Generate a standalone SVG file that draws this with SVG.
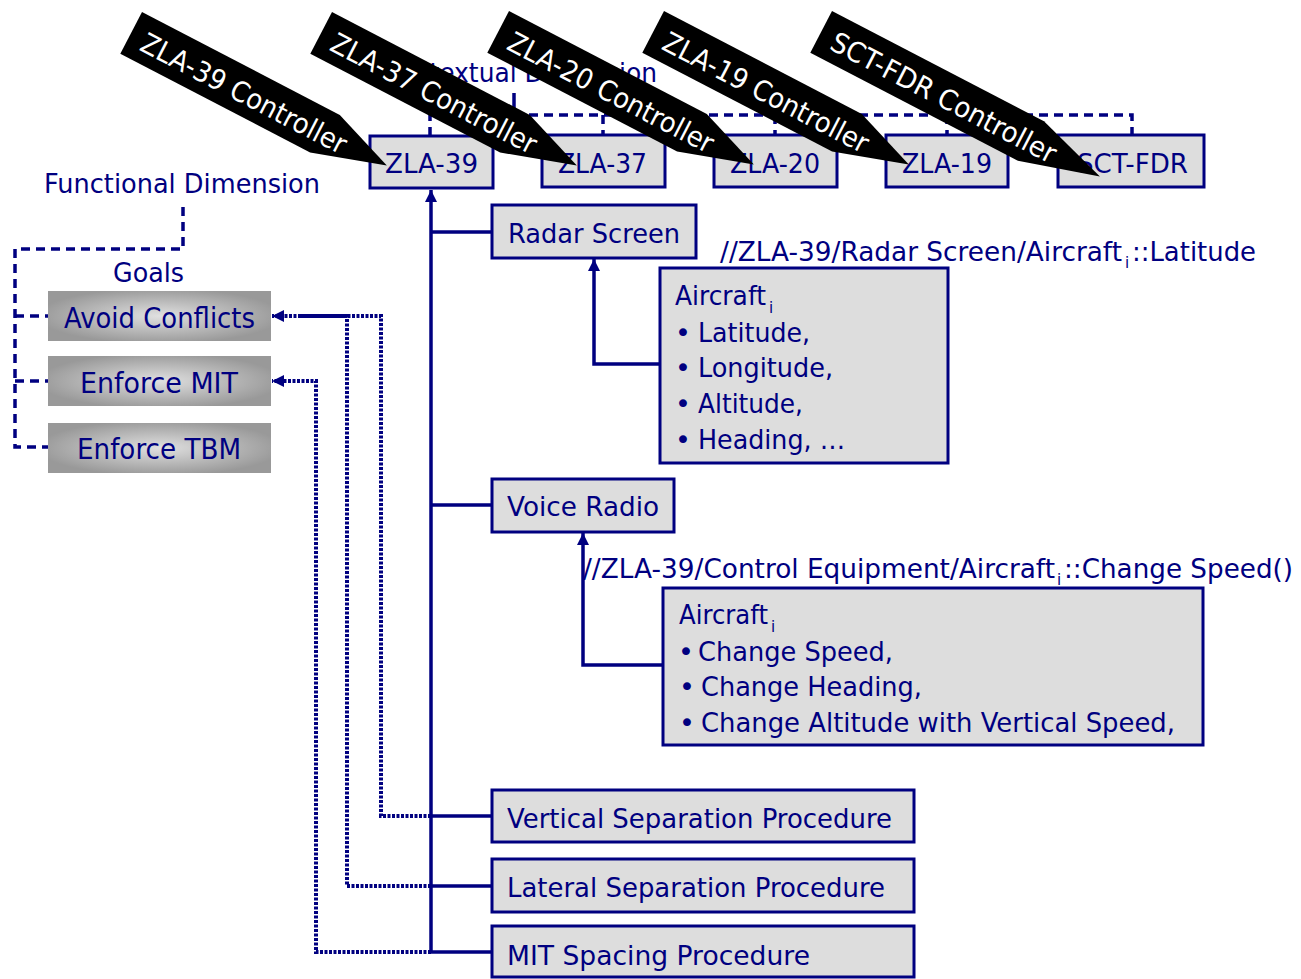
<svg xmlns="http://www.w3.org/2000/svg" width="1301" height="979" viewBox="0 0 1301 979">
  <style>
    text { font-family: "DejaVu Sans", "Liberation Sans", sans-serif; fill: #000080; }
    .lbl { font-size: 27px; }
    .big { font-size: 28px; }
    .sub { font-size: 15px; }
    .box { fill: #dddddd; stroke: #000080; stroke-width: 3; }
    .goal { fill: url(#goalFill); }
    .solid { fill: none; stroke: #000080; stroke-width: 3.5; }
    .dash { fill: none; stroke: #000080; stroke-width: 3.5; stroke-dasharray: 9 6; }
    .dot { fill: none; stroke: #000080; stroke-width: 4; stroke-dasharray: 3 1.5; }
    .callout polygon { fill: #000000; }
    .callout text { fill: #ffffff; font-size: 28px; }
  </style>
  <defs>
    <radialGradient id="goalFill" cx="50%" cy="50%" r="55%">
      <stop offset="0%" stop-color="#e0e0e0"/>
      <stop offset="100%" stop-color="#999999"/>
    </radialGradient>
    <marker id="arrow" viewBox="0 0 10 10" refX="10" refY="5" markerWidth="12" markerHeight="12" markerUnits="userSpaceOnUse" orient="auto">
      <path d="M0,0 L10,5 L0,10 z" fill="#000080"/>
    </marker>
  </defs>

  <rect width="1301" height="979" fill="#ffffff"/>

  <!-- dimension labels -->
  <text class="lbl" x="381" y="82" textLength="276" lengthAdjust="spacingAndGlyphs">Contextual Dimension</text>
  <text class="lbl" x="44" y="193" textLength="276" lengthAdjust="spacingAndGlyphs">Functional Dimension</text>
  <text class="lbl" x="113" y="282" textLength="71" lengthAdjust="spacingAndGlyphs">Goals</text>

  <!-- connectors -->
  <g id="connectors">
    <!-- contextual dimension bracket -->
    <path class="solid" d="M514,93 V113"/>
    <path class="dash" d="M430,136 V115 H1132 V136"/>
    <path class="dash" d="M603,115 V135 M775,115 V135 M947,115 V135"/>
    <!-- functional dimension bracket -->
    <path class="dash" d="M183,207 V249 H15 V447 H48"/>
    <path class="dash" d="M15,316 H48 M15,381 H48"/>
    <!-- goal links -->
    <path class="dot" d="M431,816 H381 V316 H272" marker-end="url(#arrow)"/>
    <path class="dot" d="M431,886 H347 V316 H300"/>
    <path class="dot" d="M431,952 H316 V381 H272" marker-end="url(#arrow)"/>
    <!-- ZLA-39 trunk -->
    <path class="solid" d="M431,952 V190" marker-end="url(#arrow)"/>
    <path class="solid" d="M431,232 H491 M431,505 H491 M431,816 H491 M431,886 H491 M431,952 H491"/>
    <!-- object links -->
    <path class="solid" d="M660,364 H594 V259" marker-end="url(#arrow)"/>
    <path class="solid" d="M663,665 H583 V533" marker-end="url(#arrow)"/>
  </g>

  <!-- controller positions -->
  <g id="zla39">
    <rect class="box" x="370" y="136" width="123" height="52"/>
    <text class="lbl" x="385" y="173" textLength="93" lengthAdjust="spacingAndGlyphs">ZLA-39</text>
  </g>
  <g id="zla37">
    <rect class="box" x="542" y="135" width="123" height="52"/>
    <text class="lbl" x="558" y="173" textLength="89" lengthAdjust="spacingAndGlyphs">ZLA-37</text>
  </g>
  <g id="zla20">
    <rect class="box" x="714" y="135" width="123" height="52"/>
    <text class="lbl" x="730" y="173" textLength="90" lengthAdjust="spacingAndGlyphs">ZLA-20</text>
  </g>
  <g id="zla19">
    <rect class="box" x="886" y="135" width="122" height="52"/>
    <text class="lbl" x="902" y="173" textLength="90" lengthAdjust="spacingAndGlyphs">ZLA-19</text>
  </g>
  <g id="sctfdr">
    <rect class="box" x="1058" y="135" width="146" height="52"/>
    <text class="lbl" x="1077" y="173" textLength="111" lengthAdjust="spacingAndGlyphs">SCT-FDR</text>
  </g>

  <!-- goals -->
  <g id="goal-avoid">
    <rect class="goal" x="48" y="291" width="223" height="50"/>
    <text class="big" x="64" y="328" textLength="191" lengthAdjust="spacingAndGlyphs">Avoid Conflicts</text>
  </g>
  <g id="goal-mit">
    <rect class="goal" x="48" y="356" width="223" height="50"/>
    <text class="big" x="80" y="393" textLength="158" lengthAdjust="spacingAndGlyphs">Enforce MIT</text>
  </g>
  <g id="goal-tbm">
    <rect class="goal" x="48" y="423" width="223" height="50"/>
    <text class="big" x="77" y="459" textLength="164" lengthAdjust="spacingAndGlyphs">Enforce TBM</text>
  </g>

  <!-- equipment and procedures -->
  <g id="radar-screen">
    <rect class="box" x="492" y="205" width="204" height="53"/>
    <text class="lbl" x="508" y="243" textLength="172" lengthAdjust="spacingAndGlyphs">Radar Screen</text>
  </g>
  <g id="radar-aircraft">
    <text class="lbl" x="720" y="261" textLength="402" lengthAdjust="spacingAndGlyphs">//ZLA-39/Radar Screen/Aircraft</text>
    <text class="sub" x="1125" y="268">i</text>
    <text class="lbl" x="1132" y="261" textLength="124" lengthAdjust="spacingAndGlyphs">::Latitude</text>
    <rect class="box" x="660" y="268" width="288" height="195"/>
    <text class="lbl" x="675" y="305" textLength="91" lengthAdjust="spacingAndGlyphs">Aircraft</text>
    <text class="sub" x="769" y="313">i</text>
    <text class="lbl" x="675" y="342">•</text>
    <text class="lbl" x="698" y="342" textLength="112" lengthAdjust="spacingAndGlyphs">Latitude,</text>
    <text class="lbl" x="675" y="377">•</text>
    <text class="lbl" x="698" y="377" textLength="135" lengthAdjust="spacingAndGlyphs">Longitude,</text>
    <text class="lbl" x="675" y="413">•</text>
    <text class="lbl" x="698" y="413" textLength="105" lengthAdjust="spacingAndGlyphs">Altitude,</text>
    <text class="lbl" x="675" y="449">•</text>
    <text class="lbl" x="698" y="449" textLength="147" lengthAdjust="spacingAndGlyphs">Heading, …</text>
  </g>
  <g id="voice-radio">
    <rect class="box" x="492" y="479" width="182" height="53"/>
    <text class="lbl" x="507" y="516" textLength="152" lengthAdjust="spacingAndGlyphs">Voice Radio</text>
  </g>
  <g id="radio-aircraft">
    <text class="lbl" x="583" y="578" textLength="472" lengthAdjust="spacingAndGlyphs">//ZLA-39/Control Equipment/Aircraft</text>
    <text class="sub" x="1057" y="585">i</text>
    <text class="lbl" x="1064" y="578" textLength="229" lengthAdjust="spacingAndGlyphs">::Change Speed()</text>
    <rect class="box" x="663" y="588" width="540" height="157"/>
    <text class="lbl" x="679" y="624" textLength="89" lengthAdjust="spacingAndGlyphs">Aircraft</text>
    <text class="sub" x="771" y="632">i</text>
    <text class="lbl" x="678" y="661">•</text>
    <text class="lbl" x="698" y="661" textLength="195" lengthAdjust="spacingAndGlyphs">Change Speed,</text>
    <text class="lbl" x="679" y="696">•</text>
    <text class="lbl" x="701" y="696" textLength="221" lengthAdjust="spacingAndGlyphs">Change Heading,</text>
    <text class="lbl" x="679" y="732">•</text>
    <text class="lbl" x="701" y="732" textLength="474" lengthAdjust="spacingAndGlyphs">Change Altitude with Vertical Speed,</text>
  </g>
  <g id="vertical-separation">
    <rect class="box" x="492" y="790" width="422" height="52"/>
    <text class="lbl" x="507" y="828" textLength="385" lengthAdjust="spacingAndGlyphs">Vertical Separation Procedure</text>
  </g>
  <g id="lateral-separation">
    <rect class="box" x="492" y="859" width="422" height="53"/>
    <text class="lbl" x="507" y="897" textLength="378" lengthAdjust="spacingAndGlyphs">Lateral Separation Procedure</text>
  </g>
  <g id="mit-spacing">
    <rect class="box" x="492" y="926" width="422" height="51"/>
    <text class="lbl" x="507" y="965" textLength="303" lengthAdjust="spacingAndGlyphs">MIT Spacing Procedure</text>
  </g>

  <!-- controller callouts -->
  <g id="callout-zla39" class="callout" transform="translate(142,12) rotate(27.5)">
    <polygon points="0,0 223,0 288,23 214,47 0,47"/>
    <text x="14" y="35" textLength="228" lengthAdjust="spacingAndGlyphs">ZLA-39 Controller</text>
  </g>
  <g id="callout-zla37" class="callout" transform="translate(332,12) rotate(27.5)">
    <polygon points="0,0 223,0 288,23 214,47 0,47"/>
    <text x="14" y="35" textLength="228" lengthAdjust="spacingAndGlyphs">ZLA-37 Controller</text>
  </g>
  <g id="callout-zla20" class="callout" transform="translate(509,11) rotate(27.5)">
    <polygon points="0,0 223,0 288,23 214,47 0,47"/>
    <text x="14" y="35" textLength="228" lengthAdjust="spacingAndGlyphs">ZLA-20 Controller</text>
  </g>
  <g id="callout-zla19" class="callout" transform="translate(664,11) rotate(27.5)">
    <polygon points="0,0 223,0 288,23 214,47 0,47"/>
    <text x="14" y="35" textLength="228" lengthAdjust="spacingAndGlyphs">ZLA-19 Controller</text>
  </g>
  <g id="callout-sctfdr" class="callout" transform="translate(832,11) rotate(27.5)">
    <polygon points="0,0 239,0 314,23 234,47 0,47"/>
    <text x="14" y="35" textLength="250" lengthAdjust="spacingAndGlyphs">SCT-FDR Controller</text>
  </g>
</svg>
